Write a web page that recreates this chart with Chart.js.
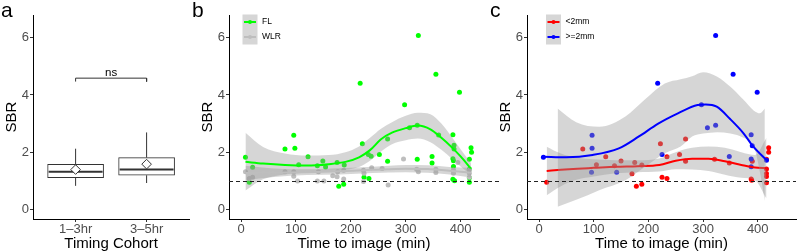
<!DOCTYPE html>
<html>
<head>
<meta charset="utf-8">
<script src="https://cdn.jsdelivr.net/npm/chart.js@4.4.1/dist/chart.umd.min.js"></script>
<style>
  body { margin: 0; width: 800px; height: 252px; background: #fff; position: relative; overflow: hidden;
         font-family: "Liberation Sans", Arial, Helvetica, sans-serif; }
  .panel { position: absolute; top: 0; height: 252px; }
  .tag { position: absolute; top: 0; font-size: 21px; line-height: 20px; color: #000; }
</style>
</head>
<body>
<div class="panel" style="left:0;width:195px"><canvas id="chartA"></canvas></div>
<div class="panel" style="left:196px;width:307px"><canvas id="chartB"></canvas></div>
<div class="panel" style="left:494px;width:306px"><canvas id="chartC"></canvas></div>
<div class="tag" style="left:1px">a</div>
<div class="tag" style="left:192px">b</div>
<div class="tag" style="left:490px">c</div>
<script>
// ---------- panel a : box stats per timing cohort
const cohorts = ["1–3hr", "3–5hr"];
const whiskerLow = [0.82, 0.92];
const boxQ1 = [1.11, 1.19];
const boxMedian = [1.31, 1.39];
const boxQ3 = [1.57, 1.81];
const whiskerHigh = [2.12, 2.69];
const cohortMean = [1.39, 1.58];
const bracketLow = 4.47;
const bracketHigh = 4.59;
const sigText = "ns";

// ---------- shared axes
const sbrTicks = [0, 2, 4, 6];
const timeTicks = [0, 100, 200, 300, 400];
const refSBR = 1;

// ---------- panel b : FL vs WLR
const flTime = [8, 15, 21, 80, 96, 98, 105, 122, 139, 149, 154, 175, 178, 187, 188, 217, 221, 224, 232, 233,
  237, 252, 267, 267, 298, 307, 321, 323, 321, 348, 348, 355, 360, 386, 388, 388, 386, 387, 387, 386,
  389, 398, 416, 419, 420, 416, 416, 416];
const flSBR = [1.82, 0.95, 1.47, 2.11, 2.59, 2.14, 1.56, 1.84, 1.52, 1.69, 1.48, 1.64, 0.81, 0.88, 1.55, 4.41, 2.29, 1.12, 1.92, 1.08,
  1.86, 1.92, 2.46, 1.68, 3.66, 2.85, 2.94, 6.08, 1.75, 1.85, 1.62, 4.73, 2.6, 2.61, 2.24, 2.11, 1.77, 1.7, 1.5, 1.05,
  1.0, 4.1, 1.75, 2.15, 2.0, 1.4, 1.1, 0.95];
const wlrTime = [8, 15, 21, 80, 96, 96, 103, 139, 141, 151, 167, 175, 176, 187, 187, 223, 224, 223, 238, 257,
  268, 296, 320, 323, 355, 355, 387, 387, 395, 416, 416, 416];
const wlrSBR = [1.31, 1.08, 1.12, 1.31, 1.31, 1.16, 0.99, 0.99, 1.31, 0.99, 1.17, 1.14, 1.31, 1.37, 1.06, 1.37, 1.26, 0.97, 1.45, 1.43,
  0.85, 1.76, 1.40, 1.31, 1.40, 1.29, 1.37, 1.26, 1.64, 1.37, 1.26, 1.12];

// smoothed fits and their confidence bands
const flFitTime = [8, 40, 80, 120, 160, 190, 215, 235, 255, 275, 300, 322, 345, 365, 385, 400, 419];
const flFit = [1.66, 1.60, 1.55, 1.53, 1.58, 1.66, 1.82, 2.07, 2.45, 2.68, 2.84, 2.93, 2.80, 2.50, 2.15, 1.85, 1.42];
const flUpper = [2.68, 2.18, 1.95, 1.88, 1.90, 2.00, 2.20, 2.50, 2.82, 3.05, 3.27, 3.38, 3.33, 3.00, 2.50, 2.10, 1.62];
const flLower = [0.66, 1.05, 1.22, 1.28, 1.33, 1.38, 1.48, 1.70, 2.02, 2.28, 2.42, 2.48, 2.35, 2.08, 1.75, 1.50, 1.20];

const wlrFitTime = [8, 60, 120, 180, 240, 300, 340, 380, 419];
const wlrFit = [1.27, 1.28, 1.30, 1.33, 1.38, 1.42, 1.41, 1.35, 1.28];
const wlrUpper = [1.52, 1.43, 1.40, 1.44, 1.49, 1.55, 1.54, 1.48, 1.45];
const wlrLower = [1.02, 1.13, 1.20, 1.22, 1.27, 1.30, 1.28, 1.22, 1.11];

// ---------- panel c : <2mm vs >=2mm
const smallTime = [14, 80, 105, 122, 138, 150, 170, 175, 178, 188, 188, 222, 225, 234, 234, 257, 268, 268, 321, 348,
  388, 389, 390, 420, 420, 416, 416, 416, 416, 416];
const smallSBR = [0.95, 2.11, 1.56, 1.84, 1.52, 1.69, 1.24, 1.64, 0.81, 0.88, 1.55, 2.29, 1.12, 1.08, 1.84, 1.92, 2.46, 1.68, 1.75, 1.62,
  1.06, 1.02, 1.68, 2.15, 2.0, 1.75, 1.41, 1.25, 1.15, 0.93];
const largeTime = [8, 97, 97, 96, 142, 217, 225, 297, 308, 323, 323, 348, 355, 399, 388, 390, 388, 388, 416];
const largeSBR = [1.82, 2.59, 2.14, 1.30, 1.30, 4.41, 1.92, 3.66, 2.85, 2.94, 6.08, 1.85, 4.73, 4.1, 2.61, 2.22, 1.76, 1.49, 1.72];

const smallFitTime = [14, 40, 70, 100, 140, 180, 220, 250, 280, 310, 340, 370, 395, 416];
const smallFit = [1.34, 1.38, 1.42, 1.45, 1.49, 1.51, 1.55, 1.70, 1.77, 1.77, 1.68, 1.55, 1.46, 1.44];
const smallUpper = [2.19, 1.95, 1.80, 1.75, 1.72, 1.72, 1.78, 2.00, 2.15, 2.20, 2.15, 2.00, 1.90, 2.50];
const smallLower = [0.49, 0.81, 1.04, 1.15, 1.26, 1.30, 1.32, 1.40, 1.39, 1.34, 1.21, 1.10, 1.02, 0.38];

const largeFitTime = [8, 50, 98, 146, 182, 218, 254, 290, 305, 325, 350, 374, 392, 416];
const largeFit = [1.84, 1.82, 1.90, 2.13, 2.54, 3.00, 3.36, 3.65, 3.67, 3.59, 3.15, 2.66, 2.19, 1.72];
const largeBandTime = [34, 68, 110, 158, 194, 230, 259, 280, 300, 326, 350, 374, 393, 404, 413];
const largeUpper = [3.53, 3.05, 2.89, 3.25, 3.85, 4.40, 4.55, 4.66, 4.80, 4.64, 4.29, 3.83, 3.45, 3.36, 3.53];
const largeLower = [0.09, 0.33, 0.67, 1.02, 1.49, 1.96, 2.20, 2.55, 2.65, 2.70, 2.65, 2.50, 2.20, 1.30, 0.30];

// ---------- styles
const FONT = "'Liberation Sans', Arial, Helvetica, sans-serif";
const RIBBON = "rgba(153,153,153,0.4)";
const INK = "#333333";
const TICK_COLOR = "#4d4d4d";
const BOX_HALF = 0.38; // half box width, in cohort units

const zip = (xs, ys) => xs.map((x, i) => ({ x: x, y: ys[i] }));

// dashed reference line at SBR = 1
const refLine = {
  id: "refLine",
  afterDatasetsDraw(chart, args, opts) {
    if (opts.value === undefined) return;
    const { ctx, chartArea, scales } = chart;
    const y = Math.round(scales.y.getPixelForValue(opts.value)) + 0.5;
    ctx.save();
    ctx.strokeStyle = "#222";
    ctx.lineWidth = 1;
    ctx.setLineDash([4, 3]);
    ctx.beginPath();
    ctx.moveTo(chartArea.left, y);
    ctx.lineTo(chartArea.right, y);
    ctx.stroke();
    ctx.restore();
  }
};

// ggplot-like legend sitting inside the panel
const insetLegend = {
  id: "insetLegend",
  afterDraw(chart, args, opts) {
    const items = chart.data.datasets.filter(d => d.legendKey);
    if (!items.length) return;
    const { ctx, chartArea } = chart;
    const key = 15;
    const x0 = chartArea.left + opts.dx;
    const y0 = opts.top;
    ctx.save();
    ctx.fillStyle = RIBBON;
    ctx.fillRect(x0, y0, key, key * items.length);
    items.forEach((d, i) => {
      const cy = y0 + key * i + key / 2;
      ctx.strokeStyle = d.legendKey;
      ctx.lineWidth = 2;
      ctx.beginPath();
      ctx.moveTo(x0 + 1.5, cy);
      ctx.lineTo(x0 + key - 1.5, cy);
      ctx.stroke();
      ctx.fillStyle = d.legendKey;
      ctx.beginPath();
      ctx.arc(x0 + key / 2, cy, 2, 0, Math.PI * 2);
      ctx.fill();
      ctx.fillStyle = "#000";
      ctx.font = "8.5px " + FONT;
      ctx.textBaseline = "middle";
      ctx.fillText(d.label, x0 + key + 4.5, cy);
    });
    ctx.restore();
  }
};

// "ns" over the comparison bracket
const sigLabel = {
  id: "sigLabel",
  afterDatasetsDraw(chart) {
    const { ctx, scales } = chart;
    ctx.save();
    ctx.fillStyle = "#000";
    ctx.font = "11.5px " + FONT;
    ctx.textAlign = "center";
    ctx.textBaseline = "alphabetic";
    ctx.fillText(sigText, scales.x.getPixelForValue(1.5), scales.y.getPixelForValue(bracketHigh) - 2.5);
    ctx.restore();
  }
};

function sbrAxis() {
  return {
    type: "linear",
    min: -0.34,
    max: 6.8,
    afterBuildTicks: s => { s.ticks = sbrTicks.map(v => ({ value: v })); },
    afterFit: s => { s.width = 33; },
    grid: { display: true, drawOnChartArea: false, drawTicks: true, tickLength: 3, color: INK, lineWidth: 1 },
    border: { display: true, color: "#000", width: 1 },
    ticks: { color: TICK_COLOR, font: { family: FONT, size: 13 }, padding: 1, autoSkip: false },
    title: { display: true, text: "SBR", color: "#000", font: { family: FONT, size: 15 }, padding: { top: 3, bottom: 0 } }
  };
}

function bottomAxis(min, max, ticks, title, fmt) {
  return {
    type: "linear",
    min: min,
    max: max,
    offset: false,
    afterBuildTicks: s => { s.ticks = ticks.map(v => ({ value: v })); },
    afterFit: s => { s.height = 33; s.paddingLeft = 0; s.paddingRight = 0; },
    grid: { display: true, drawOnChartArea: false, drawTicks: true, tickLength: 3, color: INK, lineWidth: 1, offset: false },
    border: { display: true, color: "#000", width: 1 },
    ticks: { color: TICK_COLOR, font: { family: FONT, size: 13 }, padding: 0, maxRotation: 0, autoSkip: false, callback: fmt },
    title: { display: true, text: title, color: "#000", font: { family: FONT, size: 15 }, padding: { top: 0, bottom: -1 } }
  };
}

function baseOptions(xAxis, extraPlugins) {
  return {
    responsive: true,
    maintainAspectRatio: false,
    devicePixelRatio: 1,
    animation: false,
    events: [],
    layout: { padding: { top: 15, right: 0, bottom: 0, left: 0 } },
    scales: { x: xAxis, y: sbrAxis() },
    plugins: Object.assign({ legend: { display: false }, tooltip: { enabled: false } }, extraPlugins)
  };
}

function segment(points, width) {
  return { type: "line", data: points, borderColor: INK, borderWidth: width, pointRadius: 0, fill: false, tension: 0 };
}

// ---------- panel a
const boxDatasets = [
  ...cohorts.map((c, i) => segment([{ x: i + 1, y: whiskerLow[i] }, { x: i + 1, y: boxQ1[i] }], 1)),
  ...cohorts.map((c, i) => segment([{ x: i + 1, y: boxQ3[i] }, { x: i + 1, y: whiskerHigh[i] }], 1)),
  {
    type: "bar",
    data: cohorts.map((c, i) => ({ x: i + 1, y: [boxQ1[i], boxQ3[i]] })),
    barThickness: 56,
    backgroundColor: "#ffffff",
    borderColor: INK,
    borderWidth: 1,
    borderSkipped: false
  },
  ...cohorts.map((c, i) => segment([{ x: i + 1 - BOX_HALF, y: boxMedian[i] }, { x: i + 1 + BOX_HALF, y: boxMedian[i] }], 2)),
  {
    type: "scatter",
    data: cohorts.map((c, i) => ({ x: i + 1, y: cohortMean[i] })),
    pointStyle: "rectRot",
    pointRadius: 4.8,
    backgroundColor: "#ffffff",
    borderColor: INK,
    borderWidth: 1
  },
  segment([{ x: 1, y: bracketLow }, { x: 1, y: bracketHigh }, { x: 2, y: bracketHigh }, { x: 2, y: bracketLow }], 1)
];
boxDatasets.forEach((d, i, arr) => { d.order = arr.length - i; });

new Chart(document.getElementById("chartA"), {
  type: "scatter",
  data: { datasets: boxDatasets },
  options: baseOptions(bottomAxis(0.4, 2.6, [1, 2], "Timing Cohort", v => cohorts[v - 1]), {}),
  plugins: [sigLabel]
});

// ---------- panels b and c
function smoothPanel(id, groups, legendDx) {
  const datasets = [];
  // points first, ribbons and fits are drawn over them
  groups.forEach(g => datasets.push({
    type: "scatter", label: g.label, legendKey: g.color,
    data: zip(g.time, g.sbr), pointRadius: 2.5, borderWidth: 0, backgroundColor: g.color
  }));
  groups.forEach(g => {
    datasets.push({ type: "line", data: zip(g.bandTime, g.upper), borderWidth: 0, borderColor: "rgba(0,0,0,0)",
      pointRadius: 0, cubicInterpolationMode: "monotone", fill: false });
    datasets.push({ type: "line", data: zip(g.bandTime, g.lower), borderWidth: 0, borderColor: "rgba(0,0,0,0)",
      pointRadius: 0, cubicInterpolationMode: "monotone", fill: "-1", backgroundColor: RIBBON });
    datasets.push({ type: "line", data: zip(g.fitTime, g.fit), borderColor: g.color, borderWidth: 2,
      pointRadius: 0, cubicInterpolationMode: "monotone", fill: false });
  });
  datasets.forEach((d, i, arr) => { d.order = arr.length - i; });

  return new Chart(document.getElementById(id), {
    type: "scatter",
    data: { datasets: datasets },
    options: baseOptions(bottomAxis(-22, 470, timeTicks, "Time to image (min)"), {
      refLine: { value: refSBR },
      insetLegend: { dx: legendDx, top: 14.5 }
    }),
    plugins: [refLine, insetLegend]
  });
}

smoothPanel("chartB", [
  { label: "FL", color: "#00ff00", time: flTime, sbr: flSBR,
    fitTime: flFitTime, fit: flFit, bandTime: flFitTime, upper: flUpper, lower: flLower },
  { label: "WLR", color: "#bebebe", time: wlrTime, sbr: wlrSBR,
    fitTime: wlrFitTime, fit: wlrFit, bandTime: wlrFitTime, upper: wlrUpper, lower: wlrLower }
], 13.5);

smoothPanel("chartC", [
  { label: "<2mm", color: "#ff0000", time: smallTime, sbr: smallSBR,
    fitTime: smallFitTime, fit: smallFit, bandTime: smallFitTime, upper: smallUpper, lower: smallLower },
  { label: ">=2mm", color: "#0000ff", time: largeTime, sbr: largeSBR,
    fitTime: largeFitTime, fit: largeFit, bandTime: largeBandTime, upper: largeUpper, lower: largeLower }
], 19);
</script>
</body>
</html>
